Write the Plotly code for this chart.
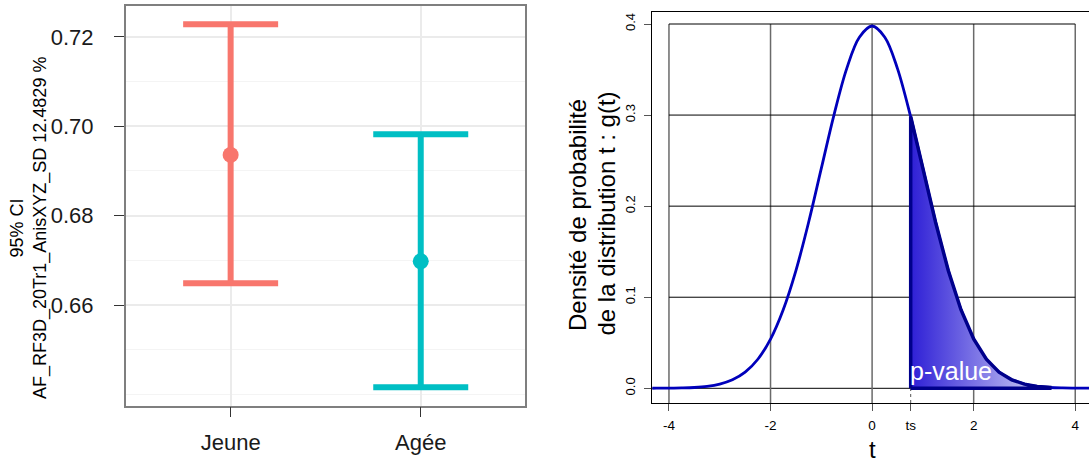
import plotly.graph_objects as go

# ---------------- data: left panel (95% CI) ----------------
groups = ["Jeune", "Agée"]
means = [0.6936, 0.6698]
ci_low = [0.6649, 0.6416]
ci_high = [0.7228, 0.6982]
group_colors = ["#F8766D", "#00BFC4"]
left_ticks = [0.66, 0.68, 0.70, 0.72]
left_minor = [0.64, 0.65, 0.67, 0.69, 0.71]

# ---------------- data: right panel (density curve) ----------------
t_vals = [-4.5, -4.25, -4.0, -3.75, -3.5, -3.25, -3.0, -2.75, -2.5, -2.25, -2.0,
          -1.75, -1.5, -1.25, -1.0, -0.75, -0.5, -0.25, 0.0, 0.25, 0.5, 0.75,
          0.76, 1.0, 1.25, 1.5, 1.75, 2.0, 2.25, 2.5, 2.75, 3.0, 3.25, 3.5,
          3.75, 4.0, 4.25, 4.5]
g_vals = [0.0000, 0.0001, 0.0002, 0.0004, 0.0009, 0.0021, 0.0046, 0.0093, 0.0177,
          0.0319, 0.0541, 0.0863, 0.1293, 0.1823, 0.2414, 0.3003, 0.3510, 0.3855,
          0.3978, 0.3855, 0.3510, 0.3003, 0.2983, 0.2414, 0.1823, 0.1293, 0.0863,
          0.0541, 0.0319, 0.0177, 0.0093, 0.0046, 0.0021, 0.0009, 0.0004, 0.0002,
          0.0001, 0.0000]
ts = 0.76
shade_end = 3.5
t_ticks = [-4, -2, 0, 2, 4]
t_tick_labels = ["-4", "-2", "0", "2", "4"]
d_ticks = [0.0, 0.1, 0.2, 0.3, 0.4]
d_tick_labels = ["0.0", "0.1", "0.2", "0.3", "0.4"]

FONT = "Liberation Sans, Arial, sans-serif"
W, H = 1089, 464

fig = go.Figure()

# left panel error bars
for g, m, lo, hi, c in zip(groups, means, ci_low, ci_high, group_colors):
    fig.add_trace(go.Scatter(
        x=[g], y=[m], mode="markers",
        marker=dict(size=16, color=c),
        error_y=dict(type="data", symmetric=False, array=[hi - m], arrayminus=[m - lo],
                     color=c, thickness=6, width=47.5),
        xaxis="x", yaxis="y", showlegend=False, hoverinfo="skip"))

# right panel main curve
fig.add_trace(go.Scatter(
    x=t_vals, y=g_vals, mode="lines", line=dict(color="#0000BB", width=2.8, shape="spline"),
    xaxis="x2", yaxis="y2", showlegend=False, hoverinfo="skip"))

# shaded p-value region
sx = [t for t in t_vals if ts <= t <= shade_end]
sy = [v for t, v in zip(t_vals, g_vals) if ts <= t <= shade_end]
poly_x = [ts] + sx + [sx[-1], ts]
poly_y = [0.0] + sy + [0.0, 0.0]
fig.add_trace(go.Scatter(
    x=poly_x, y=poly_y, mode="lines", fill="toself",
    fillgradient=dict(type="horizontal",
                      colorscale=[[0, "#2E1FD6"], [0.55, "#8A84E8"], [1, "#D8D8F8"]]),
    line=dict(color="#00008B", width=3.5),
    xaxis="x2", yaxis="y2", showlegend=False, hoverinfo="skip"))

shapes = []
ymin2, ymax2 = -0.01614, 0.4135
# vertical grey grid lines
for t in t_ticks:
    shapes.append(dict(type="line", xref="x2", yref="y2", x0=t, x1=t, y0=ymin2, y1=d_ticks[-1],
                       line=dict(color="#6a6a6a", width=1.5), layer="below"))
# horizontal black grid lines
for d in d_ticks[1:]:
    shapes.append(dict(type="line", xref="x2", yref="y2", x0=t_ticks[0], x1=t_ticks[-1], y0=d, y1=d,
                       line=dict(color="#000000", width=1), layer="below"))
shapes.append(dict(type="line", xref="x2 domain", yref="y2", x0=0, x1=1, y0=0, y1=0,
                   line=dict(color="#000000", width=1), layer="below"))
# dotted line at ts
shapes.append(dict(type="line", xref="x2", yref="y2", x0=ts, x1=ts, y0=ymin2, y1=0,
                   line=dict(color="#555555", width=1, dash="dot"), layer="below"))

annotations = [
    dict(text="95% CI", x=16.5 / W, y=1 - 228 / H, xref="paper", yref="paper",
         textangle=-90, showarrow=False, xanchor="center", yanchor="middle",
         font=dict(family=FONT, size=18, color="#000000")),
    dict(text="AF_RF3D_20Tr1_AnisXYZ_SD 12.4829 %", x=40.6 / W, y=1 - 227.5 / H,
         xref="paper", yref="paper", textangle=-90, showarrow=False,
         xanchor="center", yanchor="middle", font=dict(family=FONT, size=18, color="#000000")),
    dict(text="Densité de probabilité", x=577 / W, y=1 - 215 / H, xref="paper", yref="paper",
         textangle=-90, showarrow=False, xanchor="center", yanchor="middle",
         font=dict(family=FONT, size=24, color="#000000")),
    dict(text="de la distribution t : g(t)", x=605.5 / W, y=1 - 214 / H, xref="paper", yref="paper",
         textangle=-90, showarrow=False, xanchor="center", yanchor="middle",
         font=dict(family=FONT, size=24, color="#000000")),
    dict(text="t", x=0, y=0, xref="x2", yref="paper", showarrow=False, yshift=0, borderpad=0,
         xanchor="center", yanchor="bottom", font=dict(family=FONT, size=24, color="#000000")),
    dict(text="p-value", x=ts, y=0, xref="x2", yref="y2", showarrow=False,
         xanchor="left", yanchor="bottom", yshift=1, xshift=-3,
         font=dict(family=FONT, size=25, color="#FFFFFF")),
]

fig.update_layout(
    width=W, height=H, margin=dict(l=0, r=0, t=0, b=0),
    paper_bgcolor="white", plot_bgcolor="white",
    font=dict(family=FONT, color="#000000"),
    shapes=shapes, annotations=annotations,
    xaxis=dict(domain=[125.7 / W, 525.1 / W], anchor="y", type="category",
               range=[-0.552, 1.549], showline=True, mirror=True, linecolor="#7f7f7f",
               linewidth=1.5, ticks="outside", ticklen=10, tickcolor="#333333", tickwidth=1.2,
               showgrid=True, gridcolor="#ebebeb", gridwidth=1.5,
               tickfont=dict(family=FONT, size=22, color="#1a1a1a"), ticklabelstandoff=6,
               zeroline=False, fixedrange=True),
    yaxis=dict(domain=[1 - 405.7 / H, 1 - 6 / H], anchor="x", range=[0.6375, 0.7269],
               tickmode="array", tickvals=left_ticks, ticktext=[f"{v:.2f}" for v in left_ticks],
               showline=True, mirror=True, linecolor="#7f7f7f", linewidth=1.5,
               ticks="outside", ticklen=10, tickcolor="#333333", tickwidth=1.2,
               showgrid=True, gridcolor="#ebebeb", gridwidth=1.5,
               minor=dict(tickmode="array", tickvals=left_minor, showgrid=True,
                          gridcolor="#f4f4f4", gridwidth=1, ticks=""),
               tickfont=dict(family=FONT, size=22, color="#1a1a1a"), ticklabelstandoff=16,
               zeroline=False, fixedrange=True),
    xaxis2=dict(domain=[652.3 / W, 1.0], anchor="y2", range=[-4.328, 4.271],
                tickmode="array", tickvals=t_ticks[:3] + [ts] + t_ticks[3:],
                ticktext=t_tick_labels[:3] + ["ts"] + t_tick_labels[3:],
                showline=True, mirror=True, linecolor="#000000", linewidth=1,
                ticks="outside", ticklen=7, tickcolor="#555555", tickwidth=1,
                showgrid=False, zeroline=False,
                tickfont=dict(family=FONT, size=13.5, color="#000000"), ticklabelstandoff=3,
                fixedrange=True),
    yaxis2=dict(domain=[1 - 403 / H, 1 - 11.7 / H], anchor="x2", range=[ymin2, ymax2],
                tickmode="array", tickvals=d_ticks, ticktext=d_tick_labels, tickangle=-90,
                showline=True, mirror=False, linecolor="#000000", linewidth=1,
                ticks="outside", ticklen=7, tickcolor="#555555", tickwidth=1,
                showgrid=False, zeroline=False,
                tickfont=dict(family=FONT, size=13, color="#000000"), ticklabelstandoff=4,
                fixedrange=True),
)

fig.write_html("out.html", config={"displayModeBar": False},
               post_script="document.body.style.margin='0px';document.body.style.padding='0px';")
